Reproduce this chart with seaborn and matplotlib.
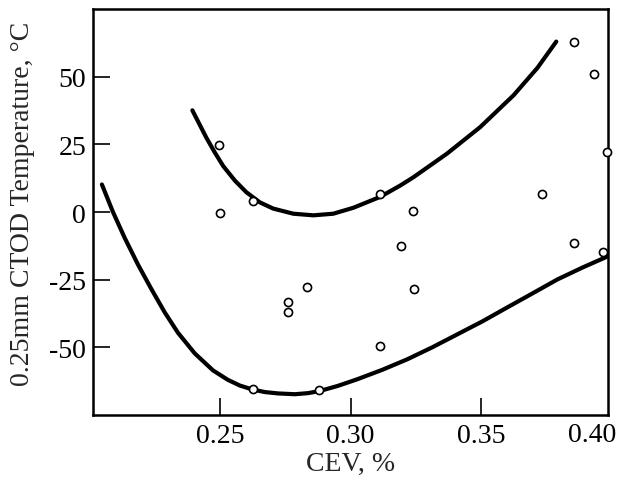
import matplotlib
matplotlib.use("Agg")
import matplotlib.pyplot as plt
import matplotlib.transforms as mtransforms
import seaborn as sns
import pandas as pd

# measured points (CEV %, 0.25mm CTOD temperature C)
cev = [0.2496, 0.2500, 0.2626, 0.2626, 0.2760, 0.2760, 0.2833, 0.2879,
       0.3113, 0.3113, 0.3193, 0.3239, 0.3243, 0.3733, 0.3856, 0.3856,
       0.3930, 0.3967, 0.3982]
temp = [24.9, -0.2, 4.2, -65.5, -33.4, -36.9, -27.5, -65.9,
        -49.3, 6.5, -12.4, 0.5, -28.6, 6.8, -11.6, 62.9,
        51.1, -14.9, 22.3]

# upper bound curve
upper_x = [0.2395, 0.2423, 0.2449, 0.2481, 0.2513, 0.2558, 0.2602, 0.2653,
           0.2704, 0.2781, 0.2858, 0.2934, 0.3011, 0.3113, 0.3190, 0.3241,
           0.3369, 0.3496, 0.3624, 0.3715, 0.3787]
upper_y = [37.6, 32.3, 27.4, 22.0, 17.0, 11.6, 7.3, 3.6,
           1.3, -0.6, -1.2, -0.6, 1.6, 5.6, 9.8, 12.9,
           21.6, 31.4, 43.2, 53.3, 63.0]

# lower bound curve
lower_x = [0.2049, 0.2091, 0.2136, 0.2187, 0.2238, 0.2289, 0.2340, 0.2404,
           0.2474, 0.2531, 0.2577, 0.2623, 0.2672, 0.2722, 0.2787, 0.2837,
           0.2883, 0.2952, 0.3025, 0.3121, 0.3217, 0.3312, 0.3408, 0.3504,
           0.3600, 0.3695, 0.3791, 0.3887, 0.3983]
lower_y = [10.2, 0.1, -9.5, -19.4, -28.4, -37.0, -44.6, -52.2,
           -58.5, -62.0, -64.1, -65.5, -66.5, -67.0, -67.3, -66.9,
           -66.1, -64.2, -61.8, -58.3, -54.4, -50.0, -45.2, -40.4,
           -35.2, -30.1, -24.9, -20.5, -16.4]

pts = pd.DataFrame({"cev": cev, "temp": temp})
up = pd.DataFrame({"x": upper_x, "y": upper_y})
lo = pd.DataFrame({"x": lower_x, "y": lower_y})

sns.set_style("ticks")
plt.rcParams["font.family"] = ["Liberation Serif", "DejaVu Serif"]
plt.rcParams["lines.solid_joinstyle"] = "round"

fig = plt.figure(figsize=(6.23, 4.81), dpi=100)
ax = fig.add_axes([0.1493, 0.135, 0.8267, 0.844])

sns.lineplot(data=up, x="x", y="y", sort=False, estimator=None,
             color="black", linewidth=3, ax=ax)
sns.lineplot(data=lo, x="x", y="y", sort=False, estimator=None,
             color="black", linewidth=3, ax=ax)
sns.scatterplot(data=pts, x="cev", y="temp", marker="o", s=34,
                facecolor="white", edgecolor="black", linewidth=1.2,
                zorder=5, clip_on=False, ax=ax)

ax.set_xlim(0.2015, 0.3985)
ax.set_ylim(-75, 75)
ax.set_xticks([0.25, 0.30, 0.35])
ax.set_xticklabels(["0.25", "0.30", "0.35"])
ax.set_yticks([-50, -25, 0, 25, 50])
ax.set_yticklabels(["-50", "-25", "0", "25", "50"])
ax.tick_params(direction="in", length=12, width=1.2, labelsize=20,
               colors="black")
ax.tick_params(axis="y", pad=5)
ax.tick_params(axis="x", pad=6)

trans = mtransforms.blended_transform_factory(ax.transData, ax.transAxes)
lab40 = ax.text(0.3925, 0, "0.40", transform=trans, ha="center", va="top",
                fontsize=20, color="black")
lab40.set_y(-0.018)

for sp in ax.spines.values():
    sp.set_linewidth(1.8)
    sp.set_color("black")

ax.set_xlabel("CEV, %", fontsize=20, labelpad=2)
ax.set_ylabel("0.25mm CTOD Temperature, \u00b0C", fontsize=20)
ax.yaxis.set_label_coords(-0.112, 0.522)

fig.savefig("out.png", dpi=100)
